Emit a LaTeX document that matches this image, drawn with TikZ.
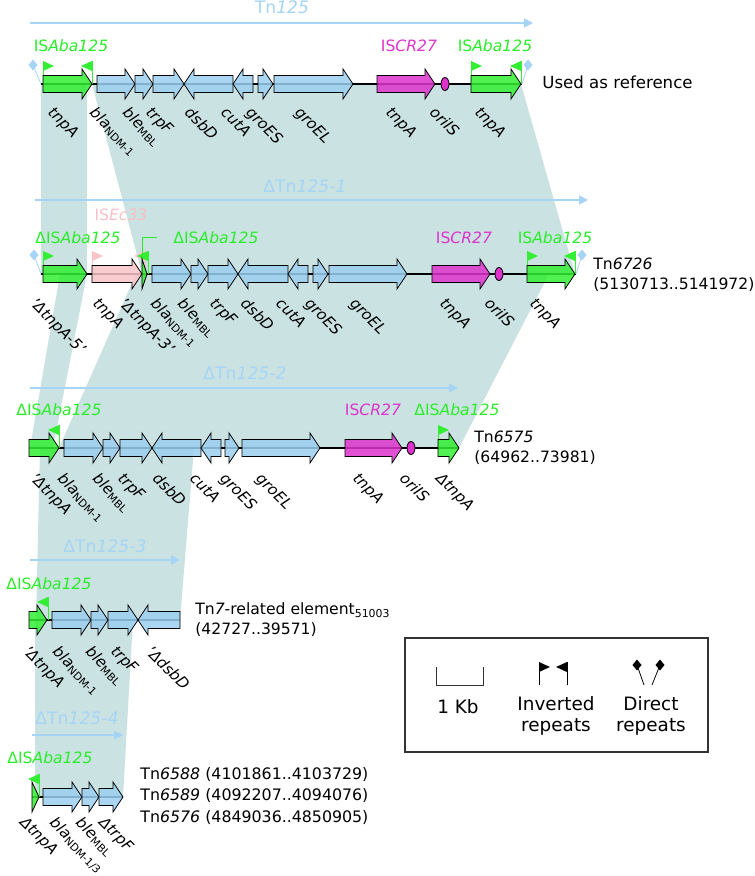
\documentclass[tikz,border=0pt]{standalone}
\usepackage{fontspec}
\setmainfont{DejaVu Sans}
\usetikzlibrary{arrows.meta}

\definecolor{geneblue}{RGB}{155,207,240}
\definecolor{genegreen}{RGB}{51,238,51}
\definecolor{genemag}{RGB}{221,51,204}
\definecolor{genepink}{RGB}{248,196,200}
\definecolor{elblue}{RGB}{165,212,245}
\definecolor{homolcol}{RGB}{203,226,226}
\definecolor{isgreen}{RGB}{40,238,40}
\definecolor{ismag}{RGB}{221,51,204}
\definecolor{ispink}{RGB}{248,190,198}

\tikzset{
  homol/.style={fill=homolcol},
  backbone/.style={draw=black, line width=0.75pt},
  gblue/.style={fill=geneblue, draw=black, line width=0.4pt, fill opacity=0.85},
  ggreen/.style={fill=genegreen, draw=black, line width=0.4pt, fill opacity=0.85},
  gmag/.style={fill=genemag, draw=black, line width=0.4pt, fill opacity=0.85},
  gpink/.style={fill=genepink, draw=black, line width=0.4pt, fill opacity=0.85},
  elarrow/.style={draw=elblue, line width=0.65pt, -{Triangle[length=4.5pt,width=4.5pt]}},
  ellab/.style={text=elblue, inner sep=0pt, font=\fontsize{8.6}{10}\selectfont},
  islab/.style={inner sep=0pt, font=\fontsize{7.8}{9}\selectfont},
  genelab/.style={rotate=-45, anchor=north west, inner sep=0pt, font=\fontsize{7.6}{8}\selectfont\itshape},
  desc/.style={anchor=west, inner sep=0pt, align=left, font=\fontsize{7.8}{10}\selectfont},
  legtext/.style={inner sep=0pt, align=center, font=\fontsize{9.2}{10.5}\selectfont},
}

% gene arrow: start, end, backbone y, style
\newcommand{\gene}[4]{%
  \pgfmathsetmacro{\hl}{abs(#2-#1)<10 ? (#2-#1) : 10*sign(#2-#1)}%
  \filldraw[#4] (#1,#3-8.5) -- ({#2-(\hl)},#3-8.5) -- ({#2-(\hl)},#3-15) -- (#2,#3)
    -- ({#2-(\hl)},#3+15) -- ({#2-(\hl)},#3+8.5) -- (#1,#3+8.5) -- cycle;}
% inverted repeat flags: x, y, colour
\newcommand{\irR}[3]{%
  \draw[#3, line width=0.5pt] (#1,#2) -- (#1,#2-23);
  \fill[#3] (#1,#2-23) -- (#1+11,#2-18) -- (#1,#2-13) -- cycle;}
\newcommand{\irL}[3]{%
  \draw[#3, line width=0.5pt] (#1,#2) -- (#1,#2-23);
  \fill[#3] (#1,#2-23) -- (#1-11,#2-18) -- (#1,#2-13) -- cycle;}
% direct repeat: diamond x, y, foot x, foot y, colour
\newcommand{\drep}[5]{%
  \draw[#5, line width=0.4pt] (#1,#2) -- (#3,#4);
  \fill[#5] (#1-4.5,#2) -- (#1,#2-5.5) -- (#1+4.5,#2) -- (#1,#2+5.5) -- cycle;}

\begin{document}
\begin{tikzpicture}[x=0.5pt,y=-0.5pt]
\useasboundingbox (0,0) rectangle (754,876);

\fill[homol] (41,84) -- (87,84) -- (87,274) -- (41,274) -- cycle;
\fill[homol] (92,84) -- (521,84) -- (575,274) -- (142,274) -- cycle;
\fill[homol] (60,274) -- (87,274) -- (53,448) -- (30,448) -- cycle;
\fill[homol] (136,274) -- (549,274) -- (459,448) -- (59,448) -- cycle;
\fill[homol] (40,448) -- (194,448) -- (180,620) -- (36,620) -- cycle;
\fill[homol] (35,620) -- (133,620) -- (123,797) -- (35,797) -- cycle;

\draw[elarrow] (30,23) -- (533,23);
\draw[elarrow] (35,200) -- (588,200);
\draw[elarrow] (30,388) -- (458,388);
\draw[elarrow] (30,560) -- (180,560);
\draw[elarrow] (32,735) -- (123,735);
\node[ellab] (tn0) at (282,7) {Tn\textit{125}};
\node[ellab] (tn1) at (305,186) {ΔTn\textit{125-1}};
\node[ellab] (tn2) at (245,373) {ΔTn\textit{125-2}};
\node[ellab] (tn3) at (105,546) {ΔTn\textit{125-3}};
\node[ellab] (tn4) at (77,718) {ΔTn\textit{125-4}};

\draw[backbone] (41,84) -- (522,84);
\draw[backbone] (41,274) -- (576,274);
\draw[backbone] (29,448) -- (459,448);
\draw[backbone] (29,620) -- (180,620);
\draw[backbone] (32,797) -- (123,797);

\drep{33}{65}{41}{84}{elblue}
\drep{528}{65}{522}{84}{elblue}
\irR{43}{84}{genegreen}
\irL{92}{84}{genegreen}
\irR{471}{84}{genegreen}
\irL{521}{84}{genegreen}
\gene{43}{92}{84}{ggreen}
\gene{97}{135}{84}{gblue}
\gene{135}{153}{84}{gblue}
\gene{153}{184}{84}{gblue}
\gene{233}{184}{84}{gblue}
\gene{253}{233}{84}{gblue}
\gene{258}{273}{84}{gblue}
\gene{274}{353}{84}{gblue}
\gene{377}{435}{84}{gmag}
\filldraw[fill=genemag, draw=black, line width=0.4pt] (445,84) ellipse [x radius=4, y radius=6.5];
\gene{471}{521}{84}{ggreen}

\drep{34}{255}{41}{274}{elblue}
\drep{582}{255}{576}{274}{elblue}
\irR{43}{274}{genegreen}
\irR{92}{274}{genepink}
\irL{145}{274}{genepink}
\irL{148}{274}{genegreen}
\irR{527}{274}{genegreen}
\irL{575}{274}{genegreen}
\draw[isgreen, line width=0.4pt] (142,268) -- (142,237) -- (157,237);
\gene{43}{87}{274}{ggreen}
\gene{92}{142}{274}{gpink}
\gene{142}{147}{274}{ggreen}
\gene{152}{191}{274}{gblue}
\gene{191}{208}{274}{gblue}
\gene{208}{238}{274}{gblue}
\gene{288}{238}{274}{gblue}
\gene{308}{288}{274}{gblue}
\gene{313}{328}{274}{gblue}
\gene{329}{407}{274}{gblue}
\gene{432}{490}{274}{gmag}
\filldraw[fill=genemag, draw=black, line width=0.4pt] (499,274) ellipse [x radius=4, y radius=6.5];
\gene{527}{575}{274}{ggreen}

\irL{59}{448}{genegreen}
\irR{438}{448}{genegreen}
\gene{29}{59}{448}{ggreen}
\gene{64}{103}{448}{gblue}
\gene{103}{120}{448}{gblue}
\gene{120}{152}{448}{gblue}
\gene{201}{152}{448}{gblue}
\gene{221}{201}{448}{gblue}
\gene{225}{239}{448}{gblue}
\gene{242}{320}{448}{gblue}
\gene{345}{402}{448}{gmag}
\filldraw[fill=genemag, draw=black, line width=0.4pt] (411,448) ellipse [x radius=4, y radius=6.5];
\gene{438}{459}{448}{ggreen}

\irL{48}{620}{genegreen}
\gene{29}{47}{620}{ggreen}
\gene{52}{91}{620}{gblue}
\gene{91}{108}{620}{gblue}
\gene{108}{138}{620}{gblue}
\gene{180}{138}{620}{gblue}

\irL{39}{797}{genegreen}
\gene{32}{39}{797}{ggreen}
\gene{43}{82}{797}{gblue}
\gene{82}{99}{797}{gblue}
\gene{99}{123}{797}{gblue}

\node[islab, text=isgreen] (is1a) at (71,46) {IS\textit{Aba125}};
\node[islab, text=ismag] (is1b) at (409,46) {IS\textit{CR27}};
\node[islab, text=isgreen] (is1c) at (495,46) {IS\textit{Aba125}};
\node[islab, text=isgreen] (is2a) at (78,238) {ΔIS\textit{Aba125}};
\node[islab, text=ispink] (is2b) at (121,215) {IS\textit{Ec33}};
\node[islab, text=isgreen] (is2c) at (216,238) {ΔIS\textit{Aba125}};
\node[islab, text=ismag] (is2d) at (464,238) {IS\textit{CR27}};
\node[islab, text=isgreen] (is2e) at (555,238) {IS\textit{Aba125}};
\node[islab, text=isgreen] (is3a) at (59,410) {ΔIS\textit{Aba125}};
\node[islab, text=ismag] (is3b) at (373,410) {IS\textit{CR27}};
\node[islab, text=isgreen] (is3c) at (457,410) {ΔIS\textit{Aba125}};
\node[islab, text=isgreen] (is4a) at (49,584) {ΔIS\textit{Aba125}};
\node[islab, text=isgreen] (is5a) at (50,758) {ΔIS\textit{Aba125}};

\node[genelab] (l1a) at (55,105) {tnpA};
\node[genelab] (l1b) at (97,105) {bla\textsubscript{\upshape NDM-1}};
\node[genelab] (l1c) at (130,105) {ble\textsubscript{\upshape MBL}};
\node[genelab] (l1d) at (153,105) {trpF};
\node[genelab] (l1e) at (192,105) {dsbD};
\node[genelab] (l1f) at (228,105) {cutA};
\node[genelab] (l1g) at (253,105) {groES};
\node[genelab] (l1h) at (302,105) {groEL};
\node[genelab] (l1i) at (393,105) {tnpA};
\node[genelab] (l1j) at (437,105) {oriIS};
\node[genelab] (l1k) at (482,105) {tnpA};

\node[genelab] (l2a) at (37,296) {'ΔtnpA-5'};
\node[genelab] (l2b) at (100,296) {tnpA};
\node[genelab] (l2c) at (126,296) {'ΔtnpA-3'};
\node[genelab] (l2d) at (158,296) {bla\textsubscript{\upshape NDM-1}};
\node[genelab] (l2e) at (185,296) {ble\textsubscript{\upshape MBL}};
\node[genelab] (l2f) at (217,296) {trpF};
\node[genelab] (l2g) at (248,296) {dsbD};
\node[genelab] (l2h) at (283,296) {cutA};
\node[genelab] (l2i) at (312,296) {groES};
\node[genelab] (l2j) at (357,296) {groEL};
\node[genelab] (l2k) at (447,296) {tnpA};
\node[genelab] (l2l) at (492,296) {oriIS};
\node[genelab] (l2m) at (537,296) {tnpA};

\node[genelab] (l3a) at (37,471) {'ΔtnpA};
\node[genelab] (l3b) at (65,471) {bla\textsubscript{\upshape NDM-1}};
\node[genelab] (l3c) at (100,471) {ble\textsubscript{\upshape MBL}};
\node[genelab] (l3d) at (125,471) {trpF};
\node[genelab] (l3e) at (160,471) {dsbD};
\node[genelab] (l3f) at (197,471) {cutA};
\node[genelab] (l3g) at (227,471) {groES};
\node[genelab] (l3h) at (263,471) {groEL};
\node[genelab] (l3i) at (360,471) {tnpA};
\node[genelab] (l3j) at (407,471) {oriIS};
\node[genelab] (l3k) at (443,471) {ΔtnpA};

\node[genelab] (l4a) at (30,644) {'ΔtnpA};
\node[genelab] (l4b) at (60,644) {bla\textsubscript{\upshape NDM-1}};
\node[genelab] (l4c) at (93,644) {ble\textsubscript{\upshape MBL}};
\node[genelab] (l4d) at (118,644) {trpF};
\node[genelab] (l4e) at (153,644) {'ΔdsbD};

\node[genelab] (l5a) at (27,815) {ΔtnpA};
\node[genelab] (l5b) at (57,815) {bla\textsubscript{\upshape NDM-1/3}};
\node[genelab] (l5c) at (83,815) {ble\textsubscript{\upshape MBL}};
\node[genelab] (l5d) at (106,815) {ΔtrpF};

\node[desc, font=\fontsize{8.3}{10}\selectfont] (d1) at (542,82) {Used as reference};
\node[desc] (d2) at (593,275) {Tn\textit{6726}\\(5130713..5141972)};
\node[desc] (d3) at (474,448) {Tn\textit{6575}\\(64962..73981)};
\node[desc] (d4) at (195,620) {Tn\textit{7}-related element\textsubscript{51003}\\(42727..39571)};
\node[desc, font=\fontsize{7.9}{10.75}\selectfont] (d5) at (140,796) {Tn\textit{6588} (4101861..4103729)\\Tn\textit{6589} (4092207..4094076)\\Tn\textit{6576} (4849036..4850905)};

\draw[black!80, line width=0.6pt] (405,638) rectangle (708,752);
\draw[black!80, line width=0.5pt] (436,667) -- (436,685) -- (483,685) -- (483,667);
\node[legtext] (k1) at (458,707) {1 Kb};
\irR{539}{685}{black}
\irL{567}{685}{black}
\node[legtext] (k2) at (556,716) {Inverted\\repeats};
\drep{637}{665}{644}{685}{black}
\drep{660}{665}{652}{685}{black}
\node[legtext] (k3) at (651,716) {Direct\\repeats};

\end{tikzpicture}
\end{document}
